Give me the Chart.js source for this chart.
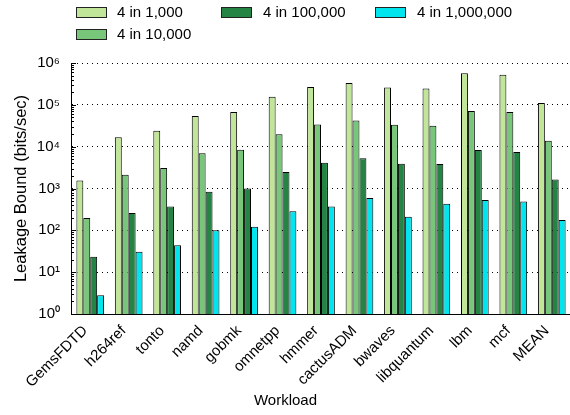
<!DOCTYPE html>
<html>
<head>
<meta charset="utf-8">
<script src="https://cdn.jsdelivr.net/npm/chart.js@4/dist/chart.umd.min.js"></script>
<style>
  html, body { margin: 0; padding: 0; background: #fff; overflow: hidden; width: 570px; height: 415px; }
  #wrap { position: relative; width: 588px; height: 415px; }
  canvas { position: absolute; left: 0; top: 0; }
  .leg { position: absolute; font-family: "Liberation Sans", Arial, sans-serif; font-size: 15px; color: #000; line-height: 18px; white-space: nowrap; }
  .sw { position: absolute; width: 29px; height: 9px; border: 1px solid #222; }
</style>
</head>
<body>
<div id="wrap">
  <canvas id="c" width="588" height="415"></canvas>
  <div id="legend"></div>
</div>
<script>
const categories = ['GemsFDTD', 'h264ref', 'tonto', 'namd', 'gobmk', 'omnetpp', 'hmmer', 'cactusADM', 'bwaves', 'libquantum', 'lbm', 'mcf', 'MEAN'];
const seriesNames = ['4 in 1,000', '4 in 10,000', '4 in 100,000', '4 in 1,000,000'];
const in1000 = [1560, 16700, 24100, 54100, 67400, 156700, 267000, 333000, 261000, 247000, 565000, 525000, 110700];
const in10000 = [197, 2140, 3090, 6920, 8470, 19700, 34100, 42400, 33500, 31700, 71300, 67400, 13900];
const in100000 = [23.4, 260, 373, 839, 1006, 2480, 4140, 5250, 3920, 3850, 8320, 7460, 1652];
const in1000000 = [2.8, 30.8, 43.7, 100, 122, 284, 373, 593, 212, 433, 531, 492, 177];
const yTickValues = [1, 10, 100, 1000, 10000, 100000, 1000000];
const yTickLabels = ['10\u2070', '10\u00B9', '10\u00B2', '10\u00B3', '10\u2074', '10\u2075', '10\u2076'];
const colors = ['#c2e699', '#78c679', '#238443', '#00e5ee'];

const FONT = '"Liberation Sans", Arial, sans-serif';
Chart.defaults.color = '#000';
Chart.defaults.font.family = FONT;

const seriesData = [in1000, in10000, in100000, in1000000];

// minor ticks on the y axis (pointing inward)
const minorTicks = {
  id: 'minorTicks',
  afterDraw(chart) {
    const y = chart.scales.y;
    const ctx = chart.ctx;
    const x0 = chart.chartArea.left;
    ctx.save();
    ctx.strokeStyle = '#000';
    ctx.lineWidth = 1;
    ctx.beginPath();
    for (let e = 0; e < 6; e++) {
      for (let m = 1; m <= 9; m++) {
        const v = m * Math.pow(10, e);
        const py = Math.round(y.getPixelForValue(v)) + 0.5;
        const len = m === 1 ? 5 : 3;
        ctx.moveTo(x0, py);
        ctx.lineTo(x0 + len, py);
      }
    }
    const pTop = Math.round(y.getPixelForValue(1e6)) + 0.5;
    ctx.moveTo(x0, pTop); ctx.lineTo(x0 + 5, pTop);
    ctx.stroke();
    ctx.restore();
  }
};

const chart = new Chart(document.getElementById('c'), {
  type: 'bar',
  data: {
    labels: categories,
    datasets: seriesNames.map((name, i) => ({
      label: name,
      data: seriesData[i],
      backgroundColor: colors[i],
      borderColor: '#000',
      borderWidth: 1,
      categoryPercentage: 0.72,
      barPercentage: 1.0
    }))
  },
  options: {
    responsive: false,
    animation: false,
    devicePixelRatio: 1,
    layout: { padding: { top: 63, right: 17, bottom: 0, left: 0 } },
    plugins: {
      legend: { display: false },
      tooltip: { enabled: false },
      title: {
        display: true,
        text: 'Workload',
        position: 'bottom',
        font: { size: 15, weight: 'normal', family: FONT },
        color: '#000',
        padding: { top: 1, bottom: 5 }
      }
    },
    scales: {
      x: {
        grid: { display: false },
        border: { display: true, color: '#000', width: 1 },
        ticks: {
          autoSkip: false,
          minRotation: 45,
          maxRotation: 45,
          padding: 0,
          labelOffset: -5,
          font: { size: 15, family: FONT },
          color: '#000'
        },
        afterFit(scale) { scale.height = 77; }
      },
      y: {
        type: 'logarithmic',
        min: 1,
        max: 1000000,
        afterBuildTicks(scale) {
          scale.ticks = yTickValues.map(v => ({ value: v, major: true }));
        },
        afterFit(scale) { scale.width = 71; },
        grid: {
          color: '#000',
          lineWidth: 1,
          drawTicks: false
        },
        border: { display: true, color: '#000', width: 1, dash: [1, 4] },
        ticks: {
          padding: 11,
          font: { size: 15, family: FONT },
          color: '#000',
          callback(value) {
            const idx = yTickValues.indexOf(value);
            return idx >= 0 ? yTickLabels[idx] : '';
          }
        },
        title: {
          display: true,
          text: 'Leakage Bound (bits/sec)',
          font: { size: 16.5, family: FONT },
          color: '#000',
          padding: { top: 12, bottom: 0 }
        }
      }
    }
  },
  plugins: [minorTicks]
});

// HTML legend, column-major like the reference
const legendPos = [
  { sx: 76, tx: 117, y: 12 },
  { sx: 76, tx: 117, y: 34 },
  { sx: 221, tx: 263, y: 12 },
  { sx: 375, tx: 417, y: 12 }
];
const legendEl = document.getElementById('legend');
seriesNames.forEach((name, i) => {
  const p = legendPos[i];
  const sw = document.createElement('div');
  sw.className = 'sw';
  sw.style.left = p.sx + 'px';
  sw.style.top = (p.y - 5) + 'px';
  sw.style.background = colors[i];
  legendEl.appendChild(sw);
  const t = document.createElement('div');
  t.className = 'leg';
  t.style.left = p.tx + 'px';
  t.style.top = (p.y - 9) + 'px';
  t.textContent = name;
  legendEl.appendChild(t);
});
</script>
</body>
</html>
